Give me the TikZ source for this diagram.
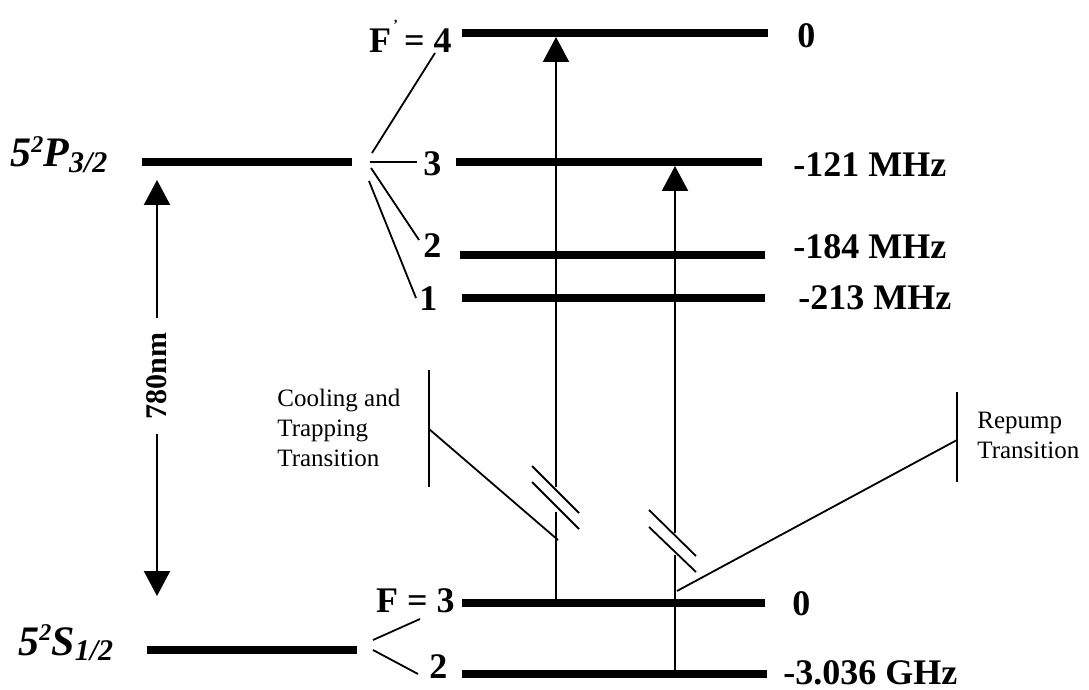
\documentclass[tikz,border=0pt]{standalone}
\usepackage{fontspec}
\setmainfont{Liberation Serif}
\usetikzlibrary{arrows.meta}
\tikzset{
  level/.style={line width=3.8pt},
  thin/.style={line width=0.9pt},
  shaft/.style={line width=1.1pt},
  tr/.style={line width=1.1pt,-{Triangle[width=13pt,length=12.5pt]}},
  lbl/.style={font=\bfseries\fontsize{18}{20}\selectfont,inner sep=0pt},
  small/.style={font=\fontsize{12.5}{15}\selectfont,inner sep=0pt,align=left},
  term/.style={font=\bfseries\itshape\fontsize{21}{24}\selectfont,inner sep=0pt,anchor=base west}
}
\newcommand{\subsc}[1]{\raisebox{-0.3ex}{\fontsize{15}{15}\selectfont #1}}
\newcommand{\supsc}[1]{\raisebox{0.75ex}{\fontsize{12}{12}\selectfont #1}}
\begin{document}
\begin{tikzpicture}[x=0.5pt,y=-0.5pt]
\useasboundingbox (0,0) rectangle (1089,690);
% fine structure levels
\coordinate (Pl) at (142,162); \coordinate (Pr) at (352,162);
\coordinate (Sl) at (147,650); \coordinate (Sr) at (357,650);
\draw[level] (Pl) -- (Pr);
\draw[level] (Sl) -- (Sr);
\node[term] (Plab) at (10,167) {5\supsc{2}P\subsc{3/2}};
\node[term] (Slab) at (18,655) {5\supsc{2}S\subsc{1/2}};
% 780 nm arrow
\coordinate (Atop) at (157,180); \coordinate (Abot) at (157,596);
\node[lbl,rotate=90,font=\bfseries\fontsize{15}{16}\selectfont] (nm) at (157,376) {780nm};
\draw[tr] (nm.east) ++(0,-14) -- (Atop);
\draw[tr] (nm.west) ++(0,14) -- (Abot);
% hyperfine levels, excited
\coordinate (F4l) at (462,33);  \coordinate (F4r) at (768,33);
\coordinate (F3l) at (456,162); \coordinate (F3r) at (762,162);
\coordinate (F2l) at (460,255); \coordinate (F2r) at (765,255);
\coordinate (F1l) at (462,298); \coordinate (F1r) at (765,298);
\foreach \n in {F4,F3,F2,F1} \draw[level] (\n l) -- (\n r);
\node[lbl,anchor=east] (L4) at (452,36) {F\raisebox{1.4ex}{\fontsize{7}{7}\selectfont\,\textquoteright}\,= 4};
\node[lbl,anchor=west] (L3) at (423,164) {3};
\node[lbl,anchor=west] (L2) at (423,246) {2};
\node[lbl,anchor=west] (L1) at (419,299) {1};
\node[lbl,anchor=west] (E4) at (797,36) {0};
\node[lbl,anchor=west] (E3) at (793,165) {-121 MHz};
\node[lbl,anchor=west] (E2) at (793,247) {-184 MHz};
\node[lbl,anchor=west] (E1) at (798,298) {-213 MHz};
% fan lines excited
\coordinate (fa) at (372,153); \coordinate (fb) at (370,162); \coordinate (fc) at (371,168); \coordinate (fd) at (369,181);
\coordinate (ta) at (435,53); \coordinate (tb) at (417,162); \coordinate (tc) at (419,240); \coordinate (td) at (416,298);
\draw[thin] (fa) -- (ta);
\draw[thin] (fb) -- (tb);
\draw[thin] (fc) -- (tc);
\draw[thin] (fd) -- (td);
% hyperfine levels, ground
\coordinate (G3l) at (462,603); \coordinate (G3r) at (765,603);
\coordinate (G2l) at (462,674); \coordinate (G2r) at (767,674);
\draw[level] (G3l) -- (G3r);
\draw[level] (G2l) -- (G2r);
\node[lbl,anchor=east] (LG3) at (455,601) {F = 3};
\node[lbl,anchor=west] (LG2) at (429,667) {2};
\node[lbl,anchor=west] (EG3) at (792,604) {0};
\node[lbl,anchor=west] (EG2) at (783,673) {-3.036 GHz};
\coordinate (ga) at (373,640); \coordinate (gb) at (420,619);
\coordinate (gc) at (373,650); \coordinate (gd) at (418,674);
\draw[thin] (ga) -- (gb);
\draw[thin] (gc) -- (gd);
% cooling transition arrow with break
\coordinate (c0) at (556,603); \coordinate (c1) at (556,512);
\coordinate (c2) at (556,487); \coordinate (c3) at (556,37);
\draw[shaft] (c0) -- (c1);
\draw[tr] (c2) -- (c3);
\draw[thin] (532,466) coordinate (cs1) -- (579,513) coordinate (cs2);
\draw[thin] (532,482) coordinate (cs3) -- (579,529) coordinate (cs4);
% repump arrow with break
\coordinate (r0) at (675,674); \coordinate (r1) at (675,555);
\coordinate (r2) at (675,533); \coordinate (r3) at (675,166);
\draw[shaft] (r0) -- (r1);
\draw[tr] (r2) -- (r3);
\draw[thin] (649,510) coordinate (rs1) -- (696,556) coordinate (rs2);
\draw[thin] (649,527) coordinate (rs3) -- (696,572) coordinate (rs4);
% cooling pointer
\coordinate (cbT) at (429,370); \coordinate (cbB) at (429,487); \coordinate (cbM) at (429,429);
\coordinate (cpE) at (558,540);
\draw[thin] (cbT) -- (cbB);
\draw[thin] (cbM) -- (cpE);
\node[small,anchor=west] (ctext) at (277,428) {Cooling and\\Trapping\\Transition};
% repump pointer
\coordinate (rbT) at (957,392); \coordinate (rbB) at (957,482); \coordinate (rbM) at (957,440);
\coordinate (rpE) at (677,591);
\draw[thin] (rbT) -- (rbB);
\draw[thin] (rbM) -- (rpE);
\node[small,anchor=west] (rtext) at (977,435) {Repump\\Transition};
\end{tikzpicture}
\end{document}
